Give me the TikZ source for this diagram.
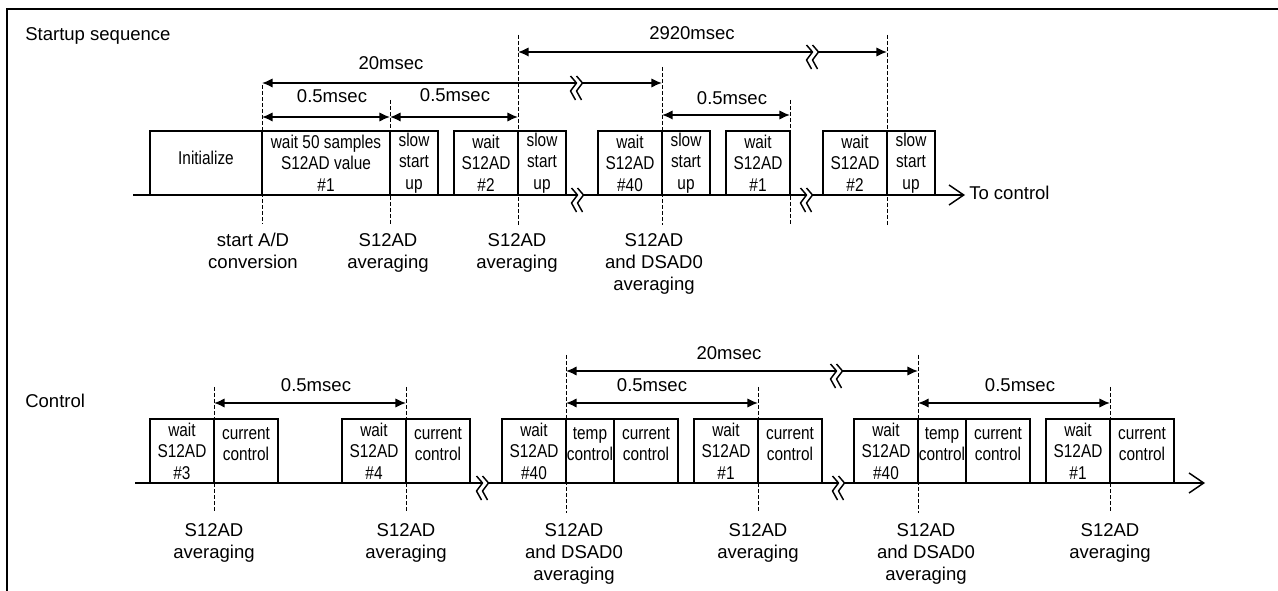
\documentclass[tikz,border=0pt]{standalone}
\usepackage{fontspec}
\setmainfont{Liberation Sans}
\newfontfamily\narrowfont[FakeStretch=0.83]{Liberation Sans}
\usetikzlibrary{arrows.meta,calc}
\newcommand\bxt[5]{%
  \node[bx,minimum width=#3] (#1) at (#2) {};
  \node[bt] (#1t) at ($(#1.center)+(0,#4)$) {#5};}
\begin{document}
\begin{tikzpicture}[x=0.75pt,y=-0.75pt,
  bx/.style={draw,line width=1.5pt,minimum height=48pt,inner sep=0pt},
  bt/.style={font=\narrowfont\fontsize{13.9pt}{16.1pt}\selectfont,align=center,inner sep=0pt},
  lbl/.style={font=\fontsize{13.9pt}{16.5pt}\selectfont,align=center,inner sep=0pt},
  dl/.style={line width=0.75pt,dash pattern=on 3pt off 1.5pt},
  dim/.style={line width=1.1pt,{Latex[length=8pt,width=7pt]}-{Latex[length=8pt,width=7pt]}},
  baseln/.style={line width=1.1pt,-{Straight Barb[length=11pt,width=15pt,line width=1.1pt]}},
  brk/.pic={
    \fill[white] (-6.5,-7) -- (-0.5,0) -- (-6.5,8) -- (-1.5,17) -- (4.5,17) -- (-0.5,8) -- (5.5,0) -- (-0.5,-7) -- cycle;
    \draw[line width=1.1pt,line join=round] (-6.5,-7) -- (-0.5,0) -- (-6.5,8) -- (-1.5,17);
    \draw[line width=1.1pt,line join=round] (-0.5,-7) -- (5.5,0) -- (-0.5,8) -- (4.5,17);
  }]
\useasboundingbox (0,0) rectangle (1278,591);
% frame
\draw[line width=1.5pt] (6.5,591) -- (6.5,9) -- (1278,9);

% titles
\node[lbl,anchor=base west] (title1) at (25,41) {Startup sequence};
\node[lbl,anchor=base west] (title2) at (25,408) {Control};

% dashed guide lines
\foreach \x/\ya/\yb/\n in {262/85/224/a,390/100/224/b,518/35/225/c,662/67/225/d,790/100/225/e,887/35/225/f,
  214/387/513/g,406/387/513/h,566/355/513/i,758/387/513/j,918/355/513/k,1110/387/513/l}{
  \coordinate (dt\n) at (\x,\ya);
  \coordinate (db\n) at (\x,\yb);
  \draw[dl] (dt\n) -- (db\n);
}

% baselines
\coordinate (bl1s) at (133,195); \coordinate (bl1e) at (965,195);
\coordinate (bl2s) at (135,483); \coordinate (bl2e) at (1205,483);
\draw[baseln] (bl1s) -- (bl1e);
\draw[baseln] (bl2s) -- (bl2e);
\node[lbl,anchor=base west] (toctrl) at (969,200) {To control};

% top boxes
\bxt{init}{206,163}{84pt}{-5}{Initialize}
\bxt{w1}{326,163}{96pt}{0}{wait 50 samples\\S12AD value\\\#1}
\bxt{s1}{414,163}{36pt}{0}{slow\\start\\up}
\bxt{w2}{486,163}{48pt}{0}{wait\\S12AD\\\#2}
\bxt{s2}{542,163}{36pt}{0}{slow\\start\\up}
\bxt{w40}{630,163}{48pt}{0}{wait\\S12AD\\\#40}
\bxt{s40}{686,163}{36pt}{0}{slow\\start\\up}
\bxt{w1b}{758,163}{48pt}{0}{wait\\S12AD\\\#1}
\bxt{w2b}{855,163}{48pt}{0}{wait\\S12AD\\\#2}
\bxt{s2b}{911,163}{36pt}{0}{slow\\start\\up}

% bottom boxes
\bxt{cw3}{182,451}{48pt}{0}{wait\\S12AD\\\#3}
\bxt{cc3}{246,451}{48pt}{-7}{current\\control}
\bxt{cw4}{374,451}{48pt}{0}{wait\\S12AD\\\#4}
\bxt{cc4}{438,451}{48pt}{-7}{current\\control}
\bxt{cw40}{534,451}{48pt}{0}{wait\\S12AD\\\#40}
\bxt{ct40}{590,451}{36pt}{-7}{temp\\control}
\bxt{cc40}{646,451}{48pt}{-7}{current\\control}
\bxt{cw1}{726,451}{48pt}{0}{wait\\S12AD\\\#1}
\bxt{cc1}{790,451}{48pt}{-7}{current\\control}
\bxt{dw40}{886,451}{48pt}{0}{wait\\S12AD\\\#40}
\bxt{dt40}{942,451}{36pt}{-7}{temp\\control}
\bxt{dc40}{998,451}{48pt}{-7}{current\\control}
\bxt{dw1}{1078,451}{48pt}{0}{wait\\S12AD\\\#1}
\bxt{dc1}{1142,451}{48pt}{-7}{current\\control}

% breaks on baselines
\pic at (578,195) {brk};
\pic at (807,195) {brk};
\pic at (483,483) {brk};
\pic at (839,483) {brk};

% dimension arrows, top
\coordinate (m1a) at (262,83); \coordinate (m1b) at (662,83);
\coordinate (m2a) at (518,52); \coordinate (m2b) at (887,52);
\coordinate (m3a) at (262,117); \coordinate (m3b) at (390,117);
\coordinate (m4a) at (390,117); \coordinate (m4b) at (518,117);
\coordinate (m5a) at (662,115); \coordinate (m5b) at (790,115);
\draw[dim] (m1a) -- (m1b);
\draw[dim] (m2a) -- (m2b);
\draw[dim] (m3a) -- (m3b);
\draw[dim] (m4a) -- (m4b);
\draw[dim] (m5a) -- (m5b);
\pic at (577,83) {brk};
\pic at (813,52) {brk};
\node[lbl,anchor=base] (l20a) at (391,70) {20msec};
\node[lbl,anchor=base] (l2920) at (692,40) {2920msec};
\node[lbl,anchor=base] (l05a) at (332,103) {0.5msec};
\node[lbl,anchor=base] (l05b) at (455,102) {0.5msec};
\node[lbl,anchor=base] (l05c) at (732,105) {0.5msec};

% dimension arrows, bottom
\coordinate (n1a) at (214,403); \coordinate (n1b) at (406,403);
\coordinate (n2a) at (566,371); \coordinate (n2b) at (918,371);
\coordinate (n3a) at (566,403); \coordinate (n3b) at (758,403);
\coordinate (n4a) at (918,403); \coordinate (n4b) at (1110,403);
\draw[dim] (n1a) -- (n1b);
\draw[dim] (n2a) -- (n2b);
\draw[dim] (n3a) -- (n3b);
\draw[dim] (n4a) -- (n4b);
\pic at (837,371) {brk};
\node[lbl,anchor=base] (k05a) at (316,392) {0.5msec};
\node[lbl,anchor=base] (k20) at (729,360) {20msec};
\node[lbl,anchor=base] (k05b) at (652,392) {0.5msec};
\node[lbl,anchor=base] (k05c) at (1020,392) {0.5msec};

% event labels, top
\node[lbl,anchor=north] (ea) at (253,233) {start A/D\\conversion};
\node[lbl,anchor=north] (eb) at (388,233) {S12AD\\averaging};
\node[lbl,anchor=north] (ec) at (517,233) {S12AD\\averaging};
\node[lbl,anchor=north] (ed) at (654,233) {S12AD\\and DSAD0\\averaging};

% event labels, bottom
\node[lbl,anchor=north] (fa) at (214,523) {S12AD\\averaging};
\node[lbl,anchor=north] (fb) at (406,523) {S12AD\\averaging};
\node[lbl,anchor=north] (fc) at (574,523) {S12AD\\and DSAD0\\averaging};
\node[lbl,anchor=north] (fd) at (758,523) {S12AD\\averaging};
\node[lbl,anchor=north] (fe) at (926,523) {S12AD\\and DSAD0\\averaging};
\node[lbl,anchor=north] (ff) at (1110,523) {S12AD\\averaging};
\end{tikzpicture}
\end{document}
